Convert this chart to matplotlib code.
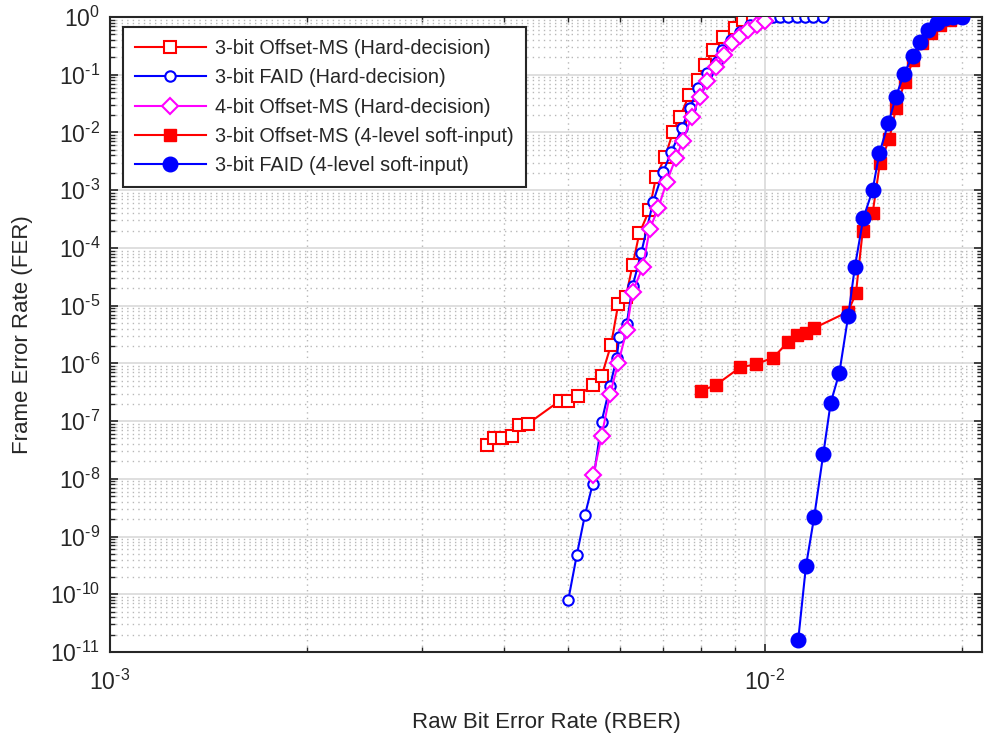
import matplotlib
matplotlib.use("Agg")
import matplotlib.pyplot as plt
import numpy as np
from matplotlib.ticker import LogLocator, NullFormatter, FixedLocator, FuncFormatter

plt.rcParams['font.family'] = ['Liberation Sans', 'DejaVu Sans']
plt.rcParams['mathtext.fontset'] = 'custom'
plt.rcParams['mathtext.rm'] = 'Liberation Sans'
plt.rcParams['mathtext.it'] = 'Liberation Sans:italic'
plt.rcParams['mathtext.default'] = 'regular'

# ---------------- data ----------------
oms3_hard_x = [3.77e-3, 3.86e-3, 3.97e-3, 4.11e-3, 4.21e-3, 4.35e-3, 4.86e-3, 5.01e-3, 5.18e-3,
               5.46e-3, 5.63e-3, 5.82e-3, 5.97e-3, 6.13e-3, 6.28e-3, 6.43e-3, 6.66e-3, 6.82e-3,
               7.04e-3, 7.24e-3, 7.42e-3, 7.66e-3, 7.91e-3, 8.10e-3, 8.34e-3, 8.64e-3, 9.00e-3,
               9.27e-3, 9.60e-3]
oms3_hard_y = [3.93e-8, 5.12e-8, 5.12e-8, 5.54e-8, 8.49e-8, 9.08e-8, 2.24e-7, 2.24e-7, 2.73e-7,
               4.19e-7, 6.0e-7, 2.07e-6, 1.06e-5, 1.39e-5, 5.04e-5, 1.78e-4, 4.52e-4, 1.71e-3,
               3.79e-3, 1.03e-2, 1.87e-2, 4.45e-2, 8.09e-2, 0.147, 0.268, 0.456, 0.637,
               0.887, 1.0]

faid3_hard_x = [5.01e-3, 5.16e-3, 5.31e-3, 5.46e-3, 5.63e-3, 5.80e-3, 5.94e-3, 5.99e-3, 6.15e-3,
                6.28e-3, 6.47e-3, 6.75e-3, 6.99e-3, 7.20e-3, 7.46e-3, 7.68e-3, 7.91e-3, 8.15e-3,
                8.44e-3, 8.60e-3, 8.87e-3, 9.16e-3, 9.49e-3, 9.83e-3, 1.03e-2, 1.054e-2,
                1.085e-2, 1.118e-2, 1.151e-2, 1.185e-2, 1.228e-2]
faid3_hard_y = [8.09e-11, 4.74e-10, 2.34e-9, 8.28e-9, 9.68e-8, 4.03e-7, 1.26e-6, 2.81e-6, 4.78e-6,
                2.18e-5, 8.03e-5, 6.30e-4, 2.08e-3, 4.63e-3, 1.18e-2, 2.62e-2, 5.81e-2, 0.106,
                0.168, 0.268, 0.40, 0.55, 0.727, 0.887, 1.0, 1.0,
                1.0, 1.0, 1.0, 1.0, 1.0]

oms4_hard_x = [5.47e-3, 5.63e-3, 5.80e-3, 5.97e-3, 6.15e-3, 6.28e-3, 6.51e-3, 6.67e-3, 6.87e-3,
               7.08e-3, 7.31e-3, 7.49e-3, 7.73e-3, 7.96e-3, 8.15e-3, 8.42e-3, 8.66e-3, 8.90e-3,
               9.16e-3, 9.43e-3, 9.71e-3, 1.0e-2]
oms4_hard_y = [1.15e-8, 5.47e-8, 2.92e-7, 9.96e-7, 3.76e-6, 1.73e-5, 4.70e-5, 2.12e-4, 4.84e-4,
               1.40e-3, 3.60e-3, 7.10e-3, 1.87e-2, 4.16e-2, 7.78e-2, 0.138, 0.219, 0.350,
               0.469, 0.595, 0.727, 0.852]

oms3_soft_x = [7.98e-3, 8.41e-3, 9.16e-3, 9.69e-3, 1.03e-2, 1.084e-2, 1.119e-2, 1.155e-2, 1.188e-2,
               1.339e-2, 1.377e-2, 1.410e-2, 1.460e-2, 1.498e-2, 1.548e-2, 1.585e-2, 1.636e-2,
               1.684e-2, 1.735e-2, 1.791e-2, 1.850e-2, 1.916e-2, 1.985e-2]
oms3_soft_y = [3.34e-7, 4.19e-7, 8.49e-7, 9.68e-7, 1.26e-6, 2.33e-6, 3.08e-6, 3.34e-6, 4.07e-6,
               7.81e-6, 1.63e-5, 1.95e-4, 3.96e-4, 2.91e-3, 7.59e-3, 2.62e-2, 7.56e-2,
               0.180, 0.350, 0.522, 0.727, 0.887, 1.0]

faid3_soft_x = [1.124e-2, 1.155e-2, 1.189e-2, 1.228e-2, 1.260e-2, 1.299e-2, 1.340e-2, 1.372e-2,
                1.413e-2, 1.460e-2, 1.495e-2, 1.543e-2, 1.585e-2, 1.630e-2, 1.681e-2, 1.725e-2,
                1.776e-2, 1.829e-2, 1.883e-2, 1.939e-2, 1.997e-2]
faid3_soft_y = [1.60e-11, 3.06e-10, 2.19e-9, 2.74e-8, 2.07e-7, 6.84e-7, 6.58e-6, 4.70e-5,
                3.24e-4, 1.00e-3, 4.34e-3, 1.44e-2, 4.16e-2, 0.103, 0.211, 0.373,
                0.595, 0.797, 0.95, 0.99, 1.0]

labels = ['3-bit Offset-MS (Hard-decision)',
          '3-bit FAID (Hard-decision)',
          '4-bit Offset-MS (Hard-decision)',
          '3-bit Offset-MS (4-level soft-input)',
          '3-bit FAID (4-level soft-input)']

x_label = 'Raw Bit Error Rate (RBER)'
y_label = 'Frame Error Rate (FER)'


def pow10_label(v, pos):
    e = int(round(np.log10(v)))
    if e < 0:
        return r'$10^{\text{-}%d}$' % (-e)
    return r'$10^{%d}$' % e


# ---------------- figure ----------------
fig = plt.figure(figsize=(9.84, 7.33), dpi=100)
ax = fig.add_axes([110/984, 81/733, 872/984, 635/733])

lw = 1.5
ax.plot(oms3_hard_x, oms3_hard_y, color='#ff0000', lw=lw, marker='s', ms=8.5,
        mfc='white', mec='#ff0000', mew=1.5, label=labels[0], zorder=3)
ax.plot(faid3_hard_x, faid3_hard_y, color='#0000ff', lw=lw, marker='o', ms=7.5,
        mfc='white', mec='#0000ff', mew=1.5, label=labels[1], zorder=4)
ax.plot(oms4_hard_x, oms4_hard_y, color='#ff00ff', lw=lw, marker='D', ms=8,
        mfc='white', mec='#ff00ff', mew=1.5, label=labels[2], zorder=5)
ax.plot(oms3_soft_x, oms3_soft_y, color='#ff0000', lw=lw, marker='s', ms=9,
        mfc='#ff0000', mec='#ff0000', label=labels[3], zorder=3)
ax.plot(faid3_soft_x, faid3_soft_y, color='#0000ff', lw=lw, marker='o', ms=10.5,
        mfc='#0000ff', mec='#0000ff', label=labels[4], zorder=4)

ax.set_xscale('log')
ax.set_yscale('log')
ax.set_xlim(1e-3, 2.145e-2)
ax.set_ylim(1e-11, 1e0)

ax.xaxis.set_major_locator(FixedLocator([1e-3, 1e-2]))
ax.xaxis.set_major_formatter(FuncFormatter(pow10_label))
ax.xaxis.set_minor_locator(LogLocator(base=10, subs=range(2, 10), numticks=20))
ax.xaxis.set_minor_formatter(NullFormatter())
ax.yaxis.set_major_locator(LogLocator(base=10, numticks=20))
ax.yaxis.set_major_formatter(FuncFormatter(pow10_label))
ax.yaxis.set_minor_locator(LogLocator(base=10, subs=range(2, 10), numticks=20))
ax.yaxis.set_minor_formatter(NullFormatter())

ax.grid(True, which='major', color='#d9d9d9', linestyle='-', linewidth=1.2, zorder=0)
ax.grid(True, which='minor', color='#b8b8b8', linestyle=(0, (1, 3)), linewidth=1.0, zorder=0)
ax.set_axisbelow(True)

ax.tick_params(which='both', direction='in', top=True, right=True, colors='#262626')
ax.tick_params(which='major', length=6, width=1.2, labelsize=16.5, pad=7, labelcolor='#262626')
ax.tick_params(which='minor', length=3.5, width=1.0)
ax.tick_params(axis='x', which='major', pad=13)
for s in ax.spines.values():
    s.set_linewidth(1.5)
    s.set_color('#262626')

ax.set_xlabel(x_label, fontsize=16, color='#262626', labelpad=12)
ax.set_ylabel(y_label, fontsize=16, color='#262626', labelpad=12)

leg = ax.legend(loc='upper left', bbox_to_anchor=(0.0146, 0.984), borderaxespad=0,
                fontsize=14.3, handlelength=3.6, numpoints=1, labelspacing=0.52,
                fancybox=False, framealpha=1, edgecolor='#262626', borderpad=0.6,
                handletextpad=0.45)
leg.get_frame().set_linewidth(1.5)
for t in leg.get_texts():
    t.set_color('#262626')

fig.savefig('out.png', dpi=100)
